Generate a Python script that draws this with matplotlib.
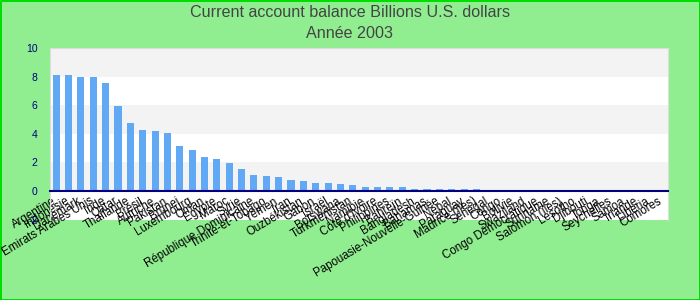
import matplotlib
matplotlib.use("Agg")
import matplotlib.pyplot as plt
import matplotlib.transforms as mtransforms
import numpy as np

title = "Current account balance Billions U.S. dollars\nAnnée 2003"

countries = [
    "Argentine", "Indonésie", "Danemark", "Emirats Arabes Unis", "Inde",
    "Qatar", "Thaïlande", "Brésil", "Autriche", "Pakistan",
    "Brunei", "Luxembourg", "Oman", "Egypte", "Maroc",
    "Syrie", "République Dominicaine", "Trinité-et-Tobago", "Yémen", "Iran",
    "Ouzbékistan", "Gabon", "Israël", "Botswana", "Turkménistan",
    "Namibie", "Côte d'Ivoire", "Philippines", "Bahreïn", "Bangladesh",
    "Bahamas", "Papouasie-Nouvelle-Guinée", "Népal", "Paraguay", "Maurice (îles)",
    "Sénégal", "Congo", "Bolivie", "Swaziland", "Congo Démocratique",
    "Suriname", "Salomon (îles)", "Lesotho", "Djibouti", "Tonga",
    "Seychelles", "Samoa", "Irlande", "Liberia", "Comores",
]

values = [
    8.14, 8.14, 8.0, 8.0, 7.58,
    5.96, 4.77, 4.28, 4.21, 4.07,
    3.16, 2.88, 2.39, 2.25, 1.96,
    1.54, 1.12, 1.05, 0.98, 0.77,
    0.70, 0.56, 0.56, 0.49, 0.42,
    0.28, 0.28, 0.28, 0.28, 0.14,
    0.14, 0.14, 0.14, 0.14, 0.14,
    0.07, 0.07, 0.07, 0.07, 0.07,
    0.0, 0.0, 0.0, 0.0, 0.0,
    0.0, 0.0, 0.0, 0.0, 0.0,
]

yticks = [-2, 0, 2, 4, 6, 8, 10]

fig = plt.figure(figsize=(7, 3), dpi=100)
fig.patch.set_facecolor("#90EE90")
fig.patch.set_edgecolor("#00DD00")
fig.patch.set_linewidth(2)

ax = fig.add_axes([50 / 700, 1 - 219.5 / 300, 618 / 700, (219.5 - 48) / 300])
ax.set_facecolor("white")

x = np.arange(len(countries))
ax.set_xlim(-0.5, len(countries) - 0.5)
ax.set_ylim(-2, 10)

# alternating bands
for i, (lo, hi) in enumerate(zip(yticks[:-1], yticks[1:])):
    if i % 2 == 1:
        ax.axhspan(lo, hi, color="#F3F3F3", zorder=0, lw=0)

ax.bar(x, values, width=0.57, color="#61A9F4", zorder=2)

for s in ["top", "right", "left"]:
    ax.spines[s].set_color("#DDDDDD")
ax.spines["bottom"].set_position(("data", 0))
ax.spines["bottom"].set_color("#000080")
ax.spines["bottom"].set_linewidth(1.5)
ax.spines["bottom"].set_zorder(3)

ax.set_yticks(yticks)
ax.set_yticklabels([str(v) for v in yticks], color="#000080", fontsize=7.5,
                   family=["Liberation Sans"])
ax.tick_params(axis="y", length=0, pad=9)

ax.set_xticks(x)
ax.set_xticklabels(countries, rotation=31, ha="right", va="top",
                   rotation_mode="anchor", fontsize=8.3,
                   family=["Liberation Sans"])
ax.tick_params(axis="x", length=0, pad=3)
offset = mtransforms.ScaledTranslation(-4 / 100, 0, fig.dpi_scale_trans)
for lab in ax.get_xticklabels():
    lab.set_transform(lab.get_transform() + offset)
    lab.set_zorder(5)

fig.text(0.5, 1 - 23 / 300, title, ha="center", va="center", fontsize=11.6,
         color="#444444", linespacing=1.5, family=["Liberation Sans"])

fig.savefig("out.png", dpi=100, facecolor=fig.get_facecolor(),
            edgecolor=fig.get_edgecolor())
